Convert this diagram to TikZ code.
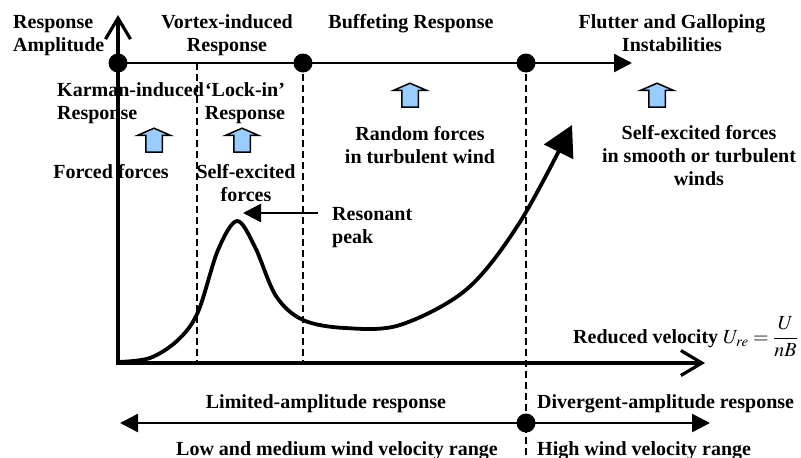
\documentclass[tikz,border=0pt]{standalone}
\usepackage{mathptmx}
\usepackage{fontspec}
\setmainfont{Liberation Serif}
\usetikzlibrary{arrows.meta,shapes.arrows}
\definecolor{arrowblue}{RGB}{153,204,255}
\tikzset{
  lbl/.style={font=\bfseries\fontsize{20}{23}\selectfont, inner sep=0pt, align=center},
  dot/.style={circle, fill=black, inner sep=0pt, minimum size=19pt},
  dashline/.style={line width=2pt, dash pattern=on 7pt off 4pt},
  upforce/.style={single arrow, draw=black, line width=1.5pt, fill=arrowblue,
    shape border rotate=90, inner sep=7.5pt, minimum height=24pt,
    single arrow head extend=8.5pt, single arrow tip angle=133},
  solidtip/.style={-{Triangle[length=18pt,width=18pt]}}
}

\begin{document}
\begin{tikzpicture}[x=1pt,y=-1pt]
\useasboundingbox (0,0) rectangle (801,458);

% axes
\coordinate (O) at (118,363);
\coordinate (ytop) at (118,15);
\coordinate (xend) at (705,363);
\draw[line width=3.2pt, {Straight Barb[length=21pt,width=25pt]}-{Straight Barb[length=21pt,width=25pt]}]
  (ytop) -- (O) -- (xend);

% regime line on top
\node[dot] (d1) at (118,63) {};
\node[dot] (d2) at (303,63) {};
\node[dot] (d3) at (526,63) {};
\coordinate (topend) at (632,63);
\draw[line width=2.5pt, solidtip] (d1.center) -- (topend);

\coordinate (v1) at (197,63);
\coordinate (v1b) at (197,363);
\coordinate (v2b) at (303,363);
\coordinate (v3b) at (526,458);
\draw[dashline] (v1) -- (v1b);
\draw[dashline] (d2.center) -- (v2b);
\draw[dashline] (d3.center) -- (v3b);

% bottom ranges
\node[dot] (d4) at (526,423) {};
\coordinate (bl) at (120,423);
\coordinate (br) at (710,423);
\draw[line width=2.5pt, {Triangle[length=18pt,width=18pt]}-{Triangle[length=18pt,width=18pt]}] (bl) -- (br);

% response curve
\draw[line width=3.8pt, line cap=round, line join=round, -{Triangle[length=30pt,width=32pt]}]
  plot[smooth, tension=0.55] coordinates {(118,362) (150,358) (178,340) (198,312)
  (218,250) (237,221) (255,247) (276,296) (303,320) (345,328) (400,325)
  (467,289) (520,222) (572,125)};

% labels (base = last line)
\node[lbl, align=left, anchor=base west] (tAmp) at (13,51) {Response\\Amplitude};
\node[lbl, anchor=base] (tVortex) at (227,51) {Vortex-induced\\Response};
\node[lbl, anchor=base] (tBuff) at (411,28) {Buffeting Response};
\node[lbl, anchor=base] (tFlutter) at (672,51) {Flutter and Galloping\\Instabilities};
\node[lbl, align=left, anchor=base west] (tKarman) at (57,119) {Karman-induced\\Response};
\node[lbl, anchor=base] (tLock) at (245,119) {`Lock-in'\\Response};

\node[upforce] (a1) at (154,142) {};
\node[upforce] (a2) at (242,142) {};
\node[upforce] (a3) at (410,97) {};
\node[upforce] (a4) at (657,97) {};

\node[lbl, anchor=base] (tForced) at (111,178) {Forced forces};
\node[lbl, anchor=base] (tSelf) at (246,201) {Self-excited\\forces};
\node[lbl, anchor=base] (tRandom) at (420,163) {Random forces\\in turbulent wind};
\node[lbl, anchor=base] (tSelfwind) at (699,185) {Self-excited forces\\in smooth or turbulent\\winds};

\node[lbl, align=left, anchor=base west] (res) at (332,243) {Resonant\\peak};
\coordinate (peaktail) at (318,213);
\coordinate (peaktip) at (243,213);
\draw[line width=2.5pt, solidtip] (peaktail) -- (peaktip);

\node[lbl, anchor=base west] (tVel) at (573,343)
  {Reduced velocity $\displaystyle U_{re}=\frac{U}{nB}$};

\node[lbl, anchor=base] (tLimited) at (326,408) {Limited-amplitude response};
\node[lbl, anchor=base] (tLow) at (337,455) {Low and medium wind velocity range};
\node[lbl, anchor=base west] (tDiv) at (537,408) {Divergent-amplitude response};
\node[lbl, anchor=base west] (tHigh) at (537,455) {High wind velocity range};
\end{tikzpicture}
\end{document}
